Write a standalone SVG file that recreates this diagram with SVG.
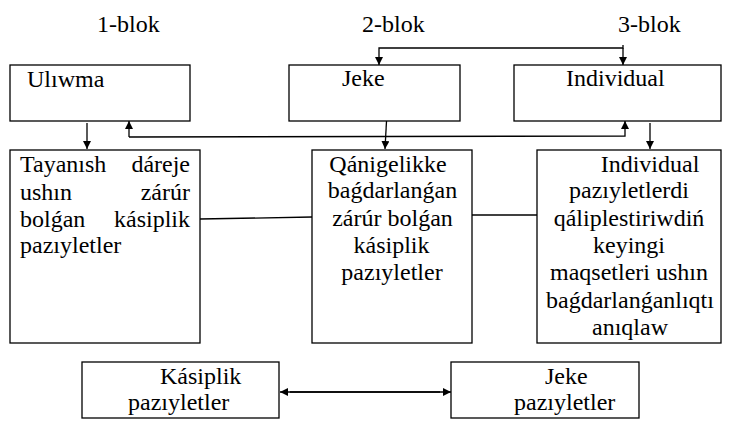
<svg xmlns="http://www.w3.org/2000/svg" width="732" height="428" viewBox="0 0 732 428">
<style>
.t{font-family:'Liberation Serif','Times New Roman',Times,serif;font-size:24px;fill:#000}
.box{fill:#fff;stroke:#000;stroke-width:1.3}
.ln{fill:none;stroke:#000;stroke-width:1.3}
.c{text-anchor:middle}
.e{text-anchor:end}
</style>
<defs>
<marker id="ah" viewBox="0 0 10 10" refX="10" refY="5" markerWidth="8" markerHeight="8" markerUnits="userSpaceOnUse" orient="auto">
<path d="M0,0 L10,5 L0,10 Z" fill="#000"/>
</marker>
</defs>
<g class="t" font-family="Liberation Serif, Times New Roman, serif" font-size="24">
<g id="labels">
<text x="97" y="32">1-blok</text>
<text x="362" y="32">2-blok</text>
<text x="618" y="32">3-blok</text>
</g>
<g id="connectors">
<polyline class="ln" points="623,45 623,48 379,48 379,65" marker-end="url(#ah)"/>
<line class="ln" x1="623" y1="48" x2="623" y2="65" marker-end="url(#ah)"/>
<line class="ln" x1="87" y1="123" x2="87" y2="149" marker-end="url(#ah)"/>
<polyline class="ln" points="129,137 625,136 625,121" marker-end="url(#ah)"/>
<line class="ln" x1="129" y1="137" x2="129" y2="121" marker-end="url(#ah)"/>
<line class="ln" x1="386.5" y1="121" x2="385" y2="149" marker-end="url(#ah)"/>
<line class="ln" x1="650" y1="123" x2="650" y2="149" marker-end="url(#ah)"/>
<line class="ln" x1="200" y1="219" x2="312" y2="217"/>
<line class="ln" x1="472" y1="215" x2="537" y2="215"/>
<line class="ln" x1="290" y1="392" x2="451" y2="392" marker-end="url(#ah)"/>
<line class="ln" x1="440" y1="392" x2="280" y2="392" marker-end="url(#ah)"/>
</g>
<g id="n-uliwma">
<rect class="box" x="10" y="65" width="180" height="56"/>
<text x="27" y="87">Ulıwma</text>
</g>
<g id="n-jeke">
<rect class="box" x="289" y="65" width="171" height="56"/>
<text x="342" y="86">Jeke</text>
</g>
<g id="n-individual">
<rect class="box" x="514" y="65" width="207" height="56"/>
<text x="566" y="86">Individual</text>
</g>
<g id="n-tayanish">
<rect class="box" x="10" y="150" width="190" height="193"/>
<text x="20" y="172">Tayanısh</text><text class="e" x="190" y="172">dáreje</text>
<text x="20" y="200">ushın</text><text class="e" x="190" y="200">zárúr</text>
<text x="20" y="227">bolǵan</text><text class="e" x="190" y="227">kásiplik</text>
<text x="20" y="253">pazıyletler</text>
</g>
<g id="n-qanigelikke">
<rect class="box" x="312" y="150" width="160" height="193"/>
<text class="c" x="388" y="172">Qánigelikke</text>
<text class="c" x="392.5" y="198">baǵdarlanǵan</text>
<text class="c" x="392.5" y="226">zárúr bolǵan</text>
<text class="c" x="391.5" y="253">kásiplik</text>
<text class="c" x="392" y="280">pazıyletler</text>
</g>
<g id="n-indpaz">
<rect class="box" x="537" y="150" width="184" height="193"/>
<text class="c" x="650" y="172">Individual</text>
<text class="c" x="629" y="198">pazıyletlerdi</text>
<text class="c" x="629" y="226">qáliplestiriwdiń</text>
<text class="c" x="629" y="253">keyingi</text>
<text class="c" x="629" y="280">maqsetleri ushın</text>
<text class="c" x="630" y="308">baǵdarlanǵanlıqtı</text>
<text class="c" x="630" y="335">anıqlaw</text>
</g>
<g id="n-kasiplik">
<rect class="box" x="82" y="362" width="197" height="56"/>
<text x="160" y="384">Kásiplik</text>
<text x="128" y="410">pazıyletler</text>
</g>
<g id="n-jekepaz">
<rect class="box" x="451" y="362" width="188" height="56"/>
<text x="545" y="384">Jeke</text>
<text x="514" y="410">pazıyletler</text>
</g>
</g>
</svg>
